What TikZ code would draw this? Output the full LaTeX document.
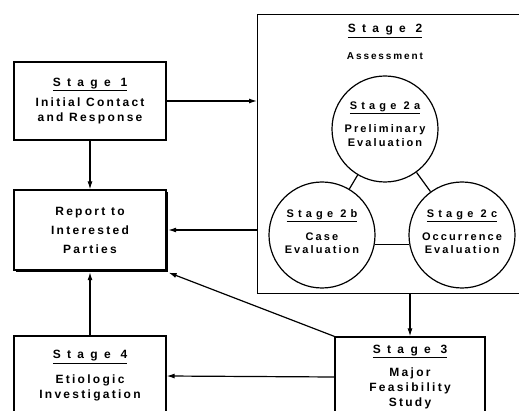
\documentclass[tikz,border=0pt]{standalone}
\usepackage{fontspec}
\setmainfont{Liberation Sans}
\newfontfamily\boxtitlefont[LetterSpace=53]{Liberation Sans}
\newfontfamily\phasetitlefont[LetterSpace=38]{Liberation Sans}
\newfontfamily\bodyfont[LetterSpace=19]{Liberation Sans}
\usetikzlibrary{arrows.meta, positioning, shadows}

\newcommand{\stagetitle}[1]{{\boxtitlefont\bfseries\underline{#1}}}
\newcommand{\phasetitle}[1]{{\phasetitlefont\bfseries\underline{#1}}}

\begin{document}
\begin{tikzpicture}[
    x=1pt, y=-1pt,
    stagebox/.style={
        rectangle,
        draw=black,
        fill=white,
        line width=1.2pt,
        minimum width=152pt,
        minimum height=#1,
        align=center,
        inner sep=0pt,
        font=\bodyfont\bfseries\fontsize{12}{15}\selectfont
    },
    phase/.style={
        circle,
        draw=black,
        fill=white,
        line width=1.2pt,
        minimum size=106pt,
        inner sep=0pt
    },
    phasetext/.style={
        align=center,
        inner sep=0pt,
        font=\bodyfont\bfseries\fontsize{11}{13.5}\selectfont
    },
    label/.style={
        align=center,
        font=\bodyfont\bfseries\fontsize{12}{15}\selectfont
    },
    arrow/.style={
        -{Latex[length=8pt,width=5pt]},
        line width=1.2pt
    }
]
\useasboundingbox (0,0) rectangle (519,411);
\clip (0,0) rectangle (519,411);

% Stage 2 frame, runs off the right edge
\node[draw=black, line width=1.2pt, minimum width=290pt, minimum height=279pt,
      anchor=north west, inner sep=0pt] (stage2) at (257,14) {};
\node[label] (stage2title) at (385,31) {\stagetitle{Stage 2}};
\node[label, font=\bodyfont\bfseries\fontsize{10}{12}\selectfont] (assess) at (385,56) {Assessment};

% Evaluation circles
\node[phase] (stage2a) at (385,129) {};
\node[phase] (stage2b) at (322,235) {};
\node[phase] (stage2c) at (462,235) {};

\node[phasetext, yshift=5pt] (stage2atext) at (stage2a) {\phasetitle{Stage 2a}\\[10pt]Preliminary\\Evaluation};
\node[phasetext, yshift=3pt] (stage2btext) at (stage2b) {\phasetitle{Stage 2b}\\[9pt]Case\\Evaluation};
\node[phasetext, yshift=3pt] (stage2ctext) at (stage2c) {\phasetitle{Stage 2c}\\[9pt]Occurrence\\Evaluation};

\draw[line width=1.2pt] (stage2a) -- (stage2b);
\draw[line width=1.2pt] (stage2a) -- (stage2c);
\draw[line width=1.2pt] (stage2b.-10) -- (stage2c.190);

% Left column
\node[stagebox=78pt] (stage1) at (90,101) {\stagetitle{Stage 1}\\[5pt]Initial Contact\\and Response};
\node[stagebox=80pt, drop shadow={shadow xshift=1.6pt, shadow yshift=-1.6pt, fill=black, opacity=1}]
    (report) at (90,230) {Report to\\[4pt]Interested\\[4pt]Parties};
\node[stagebox=80pt] (stage4) at (90,376) {\stagetitle{Stage 4}\\[10pt]Etiologic\\Investigation};

% Stage 3 box
\node[stagebox=80pt, minimum width=150pt] (stage3) at (410,377) {\stagetitle{Stage 3}\\[8pt]Major\\Feasibility\\Study};

% Arrows
\draw[arrow] (stage1.east) -- (stage1.east -| stage2.west);
\draw[arrow] (stage1.south) -- (report.north);
\draw[arrow] (stage2.west |- report.east) -- ([xshift=1.6pt]report.east);
\draw[arrow] (stage2.south -| stage3.north) -- (stage3.north);
\draw[arrow] (stage3.north west) -- ([xshift=2pt,yshift=-2pt]report.south east);
\draw[arrow] (stage3.west) -- (stage4.east);
\draw[arrow] (stage4.north) -- ([yshift=-1.6pt]report.south);

\end{tikzpicture}
\end{document}
